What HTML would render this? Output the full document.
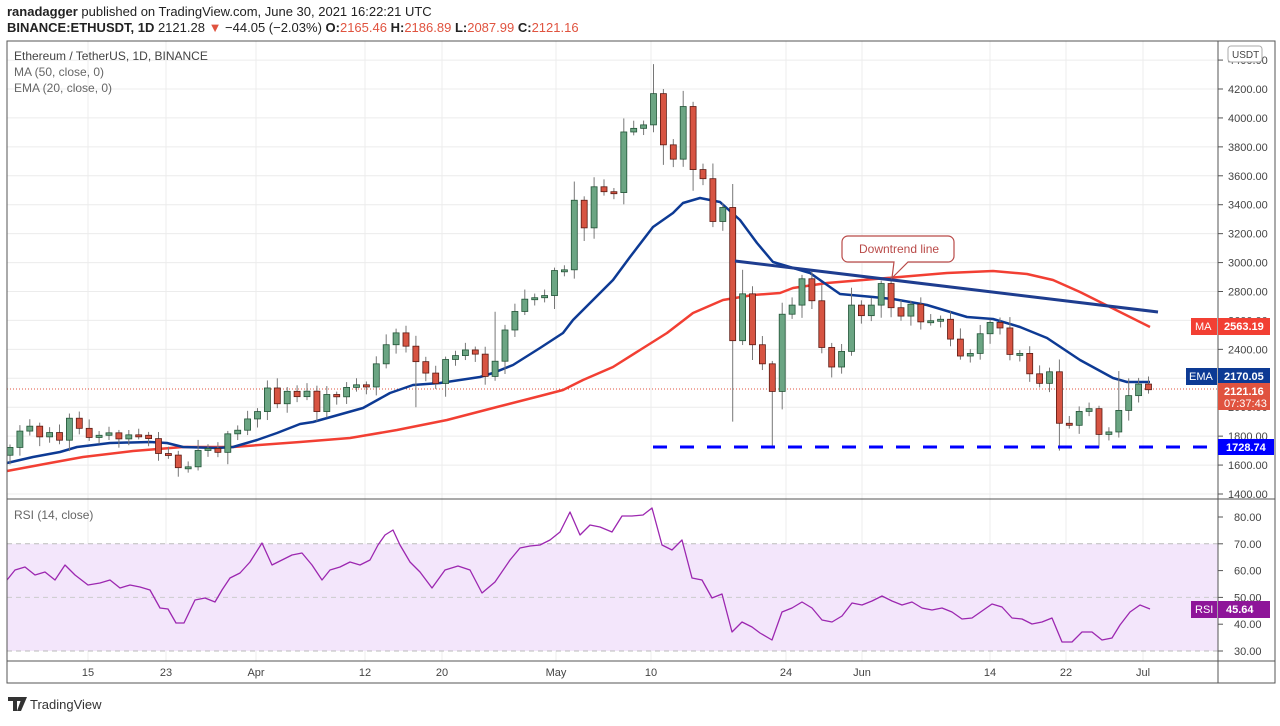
<!DOCTYPE html>
<html><head><meta charset="utf-8"><style>
body{margin:0;background:#fff;width:1280px;height:721px;overflow:hidden;font-family:"Liberation Sans",sans-serif}
</style></head><body>
<svg id="s" width="1280" height="721" xmlns="http://www.w3.org/2000/svg" font-family="Liberation Sans, sans-serif">
<text x="7" y="16" font-size="13" fill="#222"><tspan font-weight="bold">ranadagger</tspan> published on TradingView.com, June 30, 2021 16:22:21 UTC</text>
<text x="7" y="32" font-size="13" fill="#222"><tspan font-weight="bold">BINANCE:ETHUSDT, 1D</tspan> 2121.28 <tspan fill="#e0533f">▼</tspan> −44.05 (−2.03%) <tspan font-weight="bold">O:</tspan><tspan fill="#e0533f">2165.46</tspan> <tspan font-weight="bold">H:</tspan><tspan fill="#e0533f">2186.89</tspan> <tspan font-weight="bold">L:</tspan><tspan fill="#e0533f">2087.99</tspan> <tspan font-weight="bold">C:</tspan><tspan fill="#e0533f">2121.16</tspan></text>
<g id="grid"></g>
<rect x="7" y="543.8" width="1211" height="107.2" fill="#f3e6fb"/>
<line x1="7" x2="1218" y1="543.8" y2="543.8" stroke="#bbb" stroke-dasharray="5,4"/>
<line x1="7" x2="1218" y1="597.4" y2="597.4" stroke="#ccc" stroke-dasharray="5,4"/>
<line x1="7" x2="1218" y1="651" y2="651" stroke="#bbb" stroke-dasharray="5,4"/>
<line x1="7" x2="1218" y1="389" y2="389" stroke="#e0533f" stroke-dasharray="1,2" stroke-width="1"/>
<g id="lines"></g>
<g id="candles"></g>
<line x1="653" x2="1218" y1="447" y2="447" stroke="#0000ff" stroke-width="3" stroke-dasharray="14,13"/>
<line x1="735" y1="261" x2="1158" y2="312" stroke="#1e3d8f" stroke-width="3"/>
<rect x="7" y="41" width="1268" height="642" fill="none" stroke="#555" stroke-width="1"/>
<line x1="1218" x2="1218" y1="41" y2="683" stroke="#555"/>
<line x1="7" x2="1275" y1="499" y2="499" stroke="#555"/>
<line x1="7" x2="1275" y1="661" y2="661" stroke="#555"/>
<text x="14" y="60" font-size="12" fill="#444">Ethereum / TetherUS, 1D, BINANCE</text>
<text x="14" y="76" font-size="12" fill="#666">MA (50, close, 0)</text>
<text x="14" y="92" font-size="12" fill="#666">EMA (20, close, 0)</text>
<text x="14" y="519" font-size="12" fill="#666">RSI (14, close)</text>
<g id="axis" font-size="11" fill="#444"></g>
<rect x="1228" y="46" width="34" height="16" rx="3" fill="#fff" stroke="#aaa"/>
<text x="1232" y="58" font-size="10" fill="#444">USDT</text>
<path d="M848 236 h100 a6 6 0 0 1 6 6 v14 a6 6 0 0 1 -6 6 h-40 l-16 16 l2 -16 h-46 a6 6 0 0 1 -6 -6 v-14 a6 6 0 0 1 6 -6z" fill="#fff" stroke="#b94a48" stroke-width="1.2"/>
<text x="859" y="253" font-size="12" fill="#b94a48">Downtrend line</text>
<rect x="1191" y="318" width="26" height="17" fill="#f23f33"/><text x="1195" y="330" font-size="11" fill="#fff">MA</text>
<rect x="1218" y="318" width="52" height="17" fill="#f23f33"/><text x="1224" y="330" font-size="11" font-weight="bold" fill="#fff">2563.19</text>
<rect x="1186" y="368" width="31" height="17" fill="#0d3a94"/><text x="1189" y="380" font-size="11" fill="#fff">EMA</text>
<rect x="1218" y="368" width="52" height="17" fill="#0d3a94"/><text x="1224" y="380" font-size="11" font-weight="bold" fill="#fff">2170.05</text>
<rect x="1218" y="383" width="52" height="27" fill="#e0533f"/><text x="1224" y="395" font-size="11" font-weight="bold" fill="#fff">2121.16</text><text x="1224" y="407" font-size="11" fill="#fff">07:37:43</text>
<rect x="1218" y="439" width="56" height="16" fill="#0000ff"/><text x="1226" y="451" font-size="11" font-weight="bold" fill="#fff">1728.74</text>
<rect x="1191" y="601" width="26" height="17" fill="#8e1599"/><text x="1195" y="613" font-size="11" fill="#fff">RSI</text>
<rect x="1218" y="601" width="52" height="17" fill="#8e1599"/><text x="1226" y="613" font-size="11" font-weight="bold" fill="#fff">45.64</text>
<path d="M8 697 h14 v4 h-5 v10 h-4 v-10 h-5z M22 697 h5 l-6 14 h-4z" fill="#333"/>
<text x="30" y="709" font-size="13" fill="#333">TradingView</text>
</svg>
<script>
var NS="http://www.w3.org/2000/svg";
function el(p,t,a,txt){var e=document.createElementNS(NS,t);for(var k in a)e.setAttribute(k,a[k]);if(txt!==undefined)e.textContent=txt;document.getElementById(p).appendChild(e);return e;}
function py(p){return 494-(p-1400)*0.14464;}
function ry(r){return 651-(r-30)*2.68;}
function xi(i){return 10+i*9.9;}
// grid
for(var p=1400;p<=4400;p+=200){var y=py(p);if(y<42)continue;el("grid","line",{x1:7,x2:1218,y1:y,y2:y,stroke:"#ececec"});el("axis","text",{x:1228,y:y+4},p.toFixed(2));el("axis","line",{x1:1218,x2:1223,y1:y,y2:y,stroke:"#555"});}
[80,70,60,50,40,30].forEach(function(r){var y=ry(r);el("axis","text",{x:1234,y:y+4},r.toFixed(2));el("axis","line",{x1:1218,x2:1223,y1:y,y2:y,stroke:"#555"});});
[[88,"15"],[166,"23"],[256,"Apr"],[365,"12"],[442,"20"],[556,"May"],[651,"10"],[786,"24"],[862,"Jun"],[990,"14"],[1066,"22"],[1143,"Jul"]].forEach(function(t){el("grid","line",{x1:t[0],x2:t[0],y1:41,y2:661,stroke:"#ececec"});el("axis","text",{x:t[0],y:676,"text-anchor":"middle"},t[1]);});
var C=[1722,1835,1869,1795,1825,1772,1924,1854,1791,1806,1823,1781,1809,1806,1783,1680,1669,1582,1588,1701,1715,1688,1816,1841,1919,1970,2133,2024,2110,2073,2111,1970,2088,2072,2137,2155,2140,2300,2432,2514,2422,2315,2236,2164,2330,2357,2396,2367,2213,2318,2534,2662,2747,2757,2772,2945,2950,3431,3240,3524,3490,3484,3903,3928,3952,4168,3814,3715,4079,3643,3580,3284,3381,2460,2784,2432,2300,2109,2643,2706,2888,2736,2413,2278,2386,2706,2633,2706,2855,2688,2630,2712,2590,2598,2608,2471,2354,2372,2508,2586,2548,2365,2372,2231,2165,2245,1889,1875,1971,1990,1812,1829,1978,2080,2160,2121];
var OV={65:[4372,null],73:[null,1900],77:[null,1728],74:[2950,null],66:[4200,null],106:[null,1700],41:[null,2000],49:[2660,null],112:[2250,null],113:[2200,null]};
var prev=1668;
for(var i=0;i<C.length;i++){var o=prev,c=C[i];prev=c;var hi=Math.max(o,c),lo=Math.min(o,c);var r=Math.abs(c-o);var s=(i*37%11)/11;var h=hi+20+r*0.25*s+30*s,l=lo-20-r*0.25*(1-s)-30*(1-s);
if(OV[i]){if(OV[i][0])h=OV[i][0];if(OV[i][1])l=OV[i][1];}
var x=xi(i);var up=c>=o;
el("candles","line",{x1:x,x2:x,y1:py(h),y2:py(l),stroke:"#777","stroke-width":1});
var y1=py(hi),y2=py(lo);if(y2-y1<2)y2=y1+2;
el("candles","rect",{x:x-3,y:y1,width:6,height:y2-y1,fill:up?"#6ba583":"#d75442",stroke:up?"#225437":"#5b1a13","stroke-width":0.8});}
function pl(pts,col,w,par){el(par||"lines","polyline",{points:pts.map(function(p){return p.join(",")}).join(" "),fill:"none",stroke:col,"stroke-width":w,"stroke-linejoin":"round"});}
pl([[7,471],[50,463],[83,457],[133,451],[183,447],[233,447],[300,442],[350,438],[397,430],[447,420],[497,407],[540,396],[563,390],[583,380],[613,367],[640,350],[667,333],[693,313],[723,300],[753,295],[780,293],[793,288],[827,283],[887,278],[947,273],[993,271],[1027,274],[1053,280],[1080,292],[1110,307],[1150,327]],"#f23f33",2.5);
pl([[7,463],[33,457],[60,452],[77,447],[110,443],[150,442],[167,443],[183,447],[217,448],[233,447],[257,440],[277,433],[300,424],[313,422],[363,408],[390,393],[413,385],[440,383],[480,377],[493,373],[513,365],[540,348],[563,333],[573,320],[590,303],[613,280],[630,257],[653,227],[673,213],[683,203],[700,198],[720,202],[740,220],[757,243],[773,262],[810,273],[840,294],[873,297],[893,299],[927,305],[967,317],[993,319],[1020,327],[1047,338],[1080,360],[1113,378],[1127,382],[1150,382]],"#0d3a94",2.5);
pl([[7,580],[15,570],[25,567],[35,575],[45,572],[55,580],[65,565],[75,575],[88,585],[100,583],[110,580],[120,588],[130,585],[140,587],[150,590],[160,608],[168,609],[176,623],[184,623],[195,600],[205,598],[215,602],[222,590],[230,578],[240,573],[250,562],[262,543],[272,565],[282,560],[292,555],[302,553],[312,565],[322,580],[330,570],[340,567],[350,562],[360,565],[370,560],[378,545],[385,535],[393,530],[400,545],[410,562],[420,572],[432,588],[445,570],[458,566],[470,570],[482,593],[495,582],[510,560],[520,548],[530,546],[540,545],[550,540],[560,532],[570,512],[580,535],[590,525],[600,527],[612,532],[622,516],[632,516],[643,515],[652,508],[662,545],[672,550],[682,540],[692,578],[702,580],[712,598],[722,594],[732,632],[742,622],[752,627],[760,633],[772,640],[782,612],[792,608],[802,602],[812,608],[822,620],[832,622],[842,616],[852,603],[862,605],[872,601],[882,596],[892,601],[902,605],[912,602],[922,608],[932,610],[942,608],[952,612],[962,619],[972,618],[982,611],[992,604],[1002,607],[1012,618],[1022,619],[1032,624],[1042,622],[1052,618],[1062,642],[1072,642],[1082,632],[1092,632],[1102,640],[1112,638],[1120,625],[1130,612],[1140,605],[1150,609]],"#9c27b0",1.3);
</script>
</body></html>
